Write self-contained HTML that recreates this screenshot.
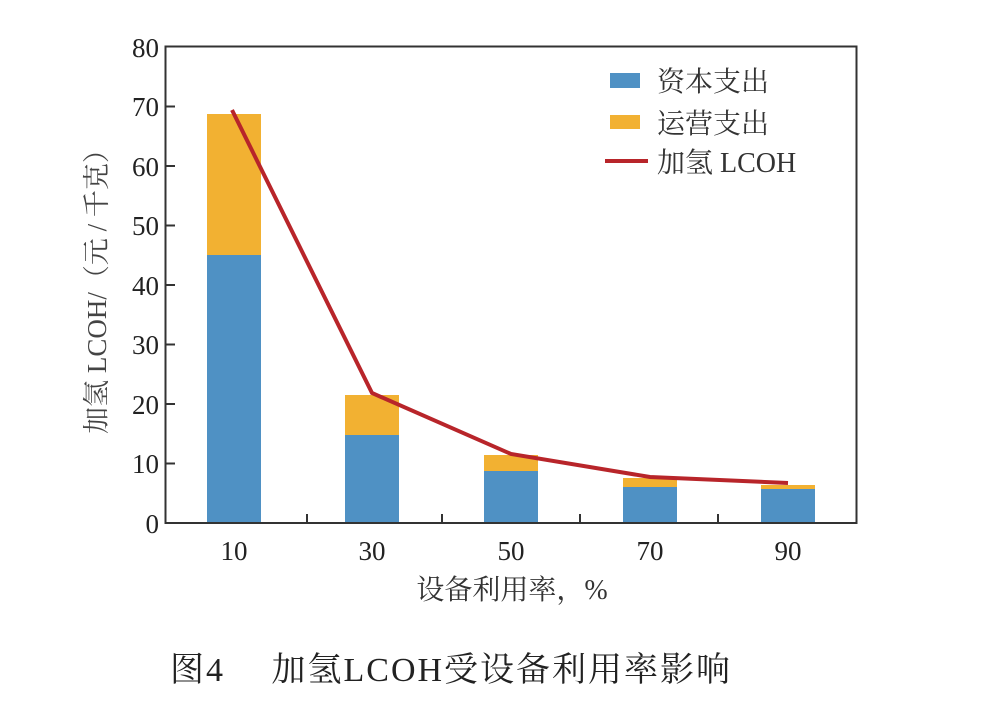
<!DOCTYPE html>
<html><head><meta charset="utf-8"><style>body{margin:0;background:#fff}svg{display:block}</style></head><body>
<svg width="981" height="720" xmlns="http://www.w3.org/2000/svg" font-family="'Liberation Serif','Noto Serif CJK SC',serif">
<g fill="#4f91c4">
<rect x="207" y="255" width="54" height="268"/>
<rect x="345" y="435" width="54" height="88"/>
<rect x="484" y="471" width="54" height="52"/>
<rect x="623" y="487" width="54" height="36"/>
<rect x="761" y="489" width="54" height="34"/>
</g>
<g fill="#f2b132">
<rect x="207" y="114" width="54" height="141"/>
<rect x="345" y="395" width="54" height="40"/>
<rect x="484" y="455" width="54" height="16"/>
<rect x="623" y="478" width="54" height="9"/>
<rect x="761" y="485" width="54" height="4"/>
</g>
<polyline points="232,110 372,393 511,454 650,477 788,483" fill="none" stroke="#b8252a" stroke-width="4"/>
<rect x="165.5" y="46.5" width="691" height="476.5" fill="none" stroke="#333" stroke-width="2"/>
<g stroke="#333" stroke-width="2">
<line x1="166" y1="463.5" x2="175" y2="463.5"/><line x1="166" y1="404" x2="175" y2="404"/><line x1="166" y1="344.5" x2="175" y2="344.5"/><line x1="166" y1="285" x2="175" y2="285"/><line x1="166" y1="225.5" x2="175" y2="225.5"/><line x1="166" y1="166" x2="175" y2="166"/><line x1="166" y1="106.5" x2="175" y2="106.5"/>
<line x1="307" y1="523" x2="307" y2="514"/><line x1="442" y1="523" x2="442" y2="514"/><line x1="580" y1="523" x2="580" y2="514"/><line x1="718" y1="523" x2="718" y2="514"/>
</g>
<g font-size="27" fill="#222" text-anchor="end">
<text x="159" y="533">0</text><text x="159" y="473">10</text><text x="159" y="414">20</text><text x="159" y="354">30</text><text x="159" y="295">40</text><text x="159" y="235">50</text><text x="159" y="176">60</text><text x="159" y="116">70</text><text x="159" y="57">80</text>
</g>
<g font-size="27" fill="#222" text-anchor="middle">
<text x="234" y="560">10</text><text x="372" y="560">30</text><text x="511" y="560">50</text><text x="650" y="560">70</text><text x="788" y="560">90</text>
</g>
<text x="512" y="599" font-size="28" fill="#333" text-anchor="middle">设备利用率，%</text>
<text transform="translate(106,285) rotate(-90)" font-size="27" fill="#444" text-anchor="middle">加氢 LCOH/（元 / 千克）</text>
<rect x="610" y="73" width="30" height="15" fill="#4f91c4"/>
<rect x="610" y="115" width="30" height="14" fill="#f2b132"/>
<line x1="605" y1="161" x2="648" y2="161" stroke="#b8252a" stroke-width="4"/>
<g font-size="28" fill="#333">
<text x="657" y="91">资本支出</text><text x="657" y="133">运营支出</text><text x="657" y="172">加氢 LCOH</text>
</g>
<text x="170" y="681" font-size="34" fill="#222" letter-spacing="2">图4　 加氢LCOH受设备利用率影响</text>
</svg>
</body></html>
